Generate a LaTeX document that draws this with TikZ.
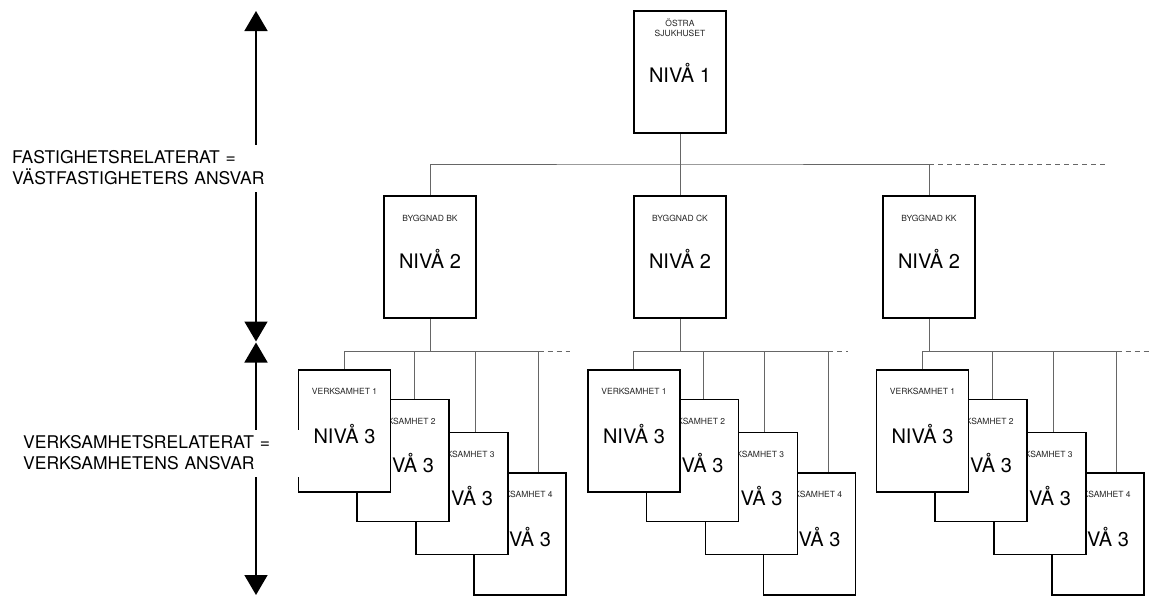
\documentclass[tikz,border=0pt]{standalone}
\usepackage{fontspec}
\setmainfont{TeX Gyre Heros}
\usetikzlibrary{arrows.meta, positioning}

\begin{document}
\begin{tikzpicture}[x=1pt, y=-1pt, >={Triangle[length=20pt,width=23pt]},
    box/.style={draw, line width=1.6pt, fill=white, minimum width=92pt,
      minimum height=122pt, inner sep=0pt},
    boxtitle/.style={font=\fontsize{8.5}{10}\selectfont, align=center,
      inner sep=0pt, anchor=south, text=black!85},
    niva/.style={font=\fontsize{20}{24}\selectfont, inner sep=0pt, anchor=base},
    conn/.style={line width=0.9pt, draw=black!60},
    more/.style={conn, dash pattern=on 5pt off 4pt},
    ansvar/.style={fill=white, font=\fontsize{17.5}{21}\selectfont, align=left,
      anchor=west, text width=274pt, inner xsep=4pt, inner ysep=2pt,
      minimum height=47pt}]

    \useasboundingbox (0,0) rectangle (1151,597);

    % niva 1 and 2
    \node[box] (osk) at (680,72) {};
    \node[boxtitle] (osk-t) at ([yshift=-27pt]osk.north) {ÖSTRA\\SJUKHUSET};
    \node[niva] (osk-n) at ([yshift=-10pt]osk.center) {NIVÅ 1};

    \foreach \b/\x/\t in {bk/430/BK, ck/680/CK, kk/929/KK} {
      \node[box] (\b) at (\x,257) {};
      \node[boxtitle] (\b-t) at ([yshift=-27pt]\b.north) {BYGGNAD \t};
      \node[niva] (\b-n) at ([yshift=-11pt]\b.center) {NIVÅ 2};
    }

    \coordinate (hub) at (680,164);
    \coordinate (hubend) at (1108,164);
    \draw[conn] (osk.south) -- (hub);
    \draw[conn] (bk.north) |- (hub) -| (kk.north);
    \draw[conn] (ck.north) -- (ck.north |- hub);
    \draw[more] (kk.north |- hub) -- (hubend);

    % niva 3, one group for each building
    \foreach \L/\p/\e in {299/bk/570, 588.5/ck/848, 877/kk/1151} {
      \coordinate (\p-d1) at (\L+45,351);
      \coordinate (\p-d2) at (\L+115,351);
      \coordinate (\p-d3) at (\L+176,351);
      \coordinate (\p-d4) at (\L+239.5,351);
      \coordinate (\p-end) at (\e,351);

      \foreach \k/\dx/\cy in {4/221/534, 3/163/493.5, 2/104/460.5, 1/45.5/431} {
        \node[box] (\p-v\k) at (\L+\dx,\cy) {};
        \node[boxtitle] (\p-v\k-t) at ([yshift=-26pt]\p-v\k.north) {VERKSAMHET \k};
        \node[niva] (\p-v\k-n) at ([yshift=-12pt]\p-v\k.center) {NIVÅ 3};
      }

      \draw[conn] (\p.south) -- (\p.south |- \p-d1);
      \draw[conn] (\p-d1) -- (\p-d4);
      \draw[more] (\p-d4) -- (\p-end);
      \foreach \k in {1,...,4}
        \draw[conn] (\p-d\k) -- (\p-d\k |- \p-v\k.north);
    }

    % ansvar arrows
    \coordinate (fa-top) at (256,11);
    \coordinate (fa-bot) at (256,341.5);
    \coordinate (va-top) at (256,342.5);
    \coordinate (va-bot) at (256,595);
    \draw[<->, line width=1.6pt] (fa-top) -- (fa-bot);
    \draw[<->, line width=1.6pt] (va-top) -- (va-bot);

    \node[ansvar] (fa) at (8,168) {FASTIGHETSRELATERAT =\\VÄSTFASTIGHETERS ANSVAR};
    \node[ansvar] (va) at (19,453) {VERKSAMHETSRELATERAT =\\VERKSAMHETENS ANSVAR};
  \end{tikzpicture}
\end{document}
